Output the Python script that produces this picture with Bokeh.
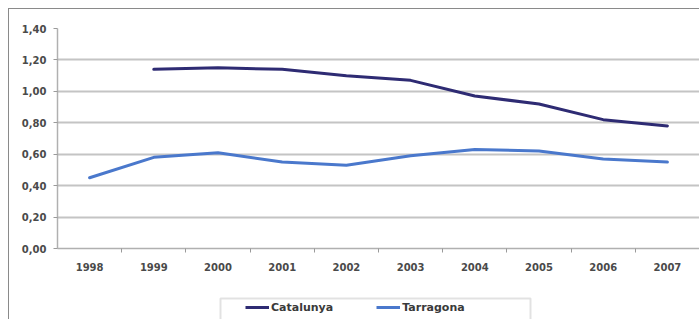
from bokeh.plotting import figure
from bokeh.layouts import column
from bokeh.models import (Range1d, FixedTicker, CustomJSTickFormatter, Legend, LegendItem,
                          BoxAnnotation)
from bokeh.embed import file_html
from bokeh.resources import INLINE

years = [1998, 1999, 2000, 2001, 2002, 2003, 2004, 2005, 2006, 2007]
cat_years = [1999, 2000, 2001, 2002, 2003, 2004, 2005, 2006, 2007]
catalunya = [1.14, 1.15, 1.14, 1.10, 1.07, 0.97, 0.92, 0.82, 0.78]
tarragona = [0.45, 0.58, 0.61, 0.55, 0.53, 0.59, 0.63, 0.62, 0.57, 0.55]
y_ticks = [0.0, 0.2, 0.4, 0.6, 0.8, 1.0, 1.2, 1.4]
grid_ticks = [0.2, 0.4, 0.6, 0.8, 1.0, 1.2]
boundaries = [1998.5, 1999.5, 2000.5, 2001.5, 2002.5, 2003.5, 2004.5, 2005.5, 2006.5]
series_names = ["Catalunya", "Tarragona"]

FONT = "DejaVu Sans"
TXT = "#4a4a4a"
GRID = "#c4c4c4"
C1 = "#2e2b73"
C2 = "#4a78cc"

W = 690
p = figure(width=W, height=282, output_backend="svg", toolbar_location=None,
           x_range=Range1d(1997.5, 2007.5), y_range=Range1d(0, 1.4),
           min_border_left=48, min_border_top=19, min_border_bottom=43, min_border_right=0)
p.outline_line_color = None

p.xaxis.ticker = FixedTicker(ticks=years, minor_ticks=boundaries)
p.xaxis.major_tick_out = 0
p.xaxis.major_tick_in = 0
p.xaxis.minor_tick_out = 4
p.xaxis.minor_tick_in = 0
p.xaxis.minor_tick_line_color = "#9a9a9a"
p.xaxis.axis_line_color = "#b0b0b0"
p.xaxis.axis_line_width = 1.5
p.xaxis.major_label_standoff = 10

p.yaxis.ticker = FixedTicker(ticks=y_ticks)
p.yaxis.formatter = CustomJSTickFormatter(code="return tick.toFixed(2).replace('.', ',');")
p.yaxis.major_tick_out = 4
p.yaxis.major_tick_in = 0
p.yaxis.minor_tick_line_color = None
p.yaxis.major_tick_line_color = "#9a9a9a"
p.yaxis.axis_line_color = "#b0b0b0"
p.yaxis.axis_line_width = 1.5
p.yaxis.major_label_standoff = 7

for ax in (p.xaxis, p.yaxis):
    ax.major_label_text_font = FONT
    ax.major_label_text_font_style = "bold"
    ax.major_label_text_font_size = "10px"
    ax.major_label_text_color = TXT

p.xgrid.grid_line_color = None
p.ygrid.ticker = FixedTicker(ticks=grid_ticks)
p.ygrid.grid_line_color = GRID
p.ygrid.grid_line_width = 2

p.line(cat_years, catalunya, line_color=C1, line_width=3, line_join="round", line_cap="round")
p.line(years, tarragona, line_color=C2, line_width=3, line_join="round", line_cap="round")

# legend strip (separate figure so the legend is not clipped)
lg = figure(width=W, height=28, output_backend="svg", toolbar_location=None,
            x_range=Range1d(0, 1), y_range=Range1d(0, 1),
            min_border_left=0, min_border_right=0, min_border_top=0, min_border_bottom=0)
lg.axis.visible = False
lg.grid.visible = False
lg.outline_line_color = None
q1 = lg.line(cat_years, catalunya, line_color=C1, line_width=3)
q2 = lg.line(years, tarragona, line_color=C2, line_width=3)

box = BoxAnnotation(left=163, right=473, top=0.75, bottom=-0.5,
                    left_units="screen", right_units="screen",
                    top_units="data", bottom_units="data",
                    fill_color="white", fill_alpha=1.0,
                    line_color="#a0a0a0", line_width=2)
lg.add_layout(box)

legend = Legend(items=[LegendItem(label=series_names[0], renderers=[q1]),
                       LegendItem(label=series_names[1], renderers=[q2])],
                location=(188, 2), orientation="horizontal",
                padding=0, spacing=43, glyph_width=24, glyph_height=16,
                label_height=20, label_standoff=2,
                label_text_font=FONT, label_text_font_style="bold",
                label_text_font_size="11px", label_text_color="#3a3a3a",
                border_line_alpha=0, background_fill_alpha=0)
lg.add_layout(legend, "center")

layout = column(p, lg, spacing=0)
layout.styles = {"margin-left": "8px", "margin-top": "8px",
                 "border-left": "1px solid #8a8a8a", "border-top": "1px solid #8a8a8a"}

open("out.html", "w").write(file_html(layout, INLINE))
